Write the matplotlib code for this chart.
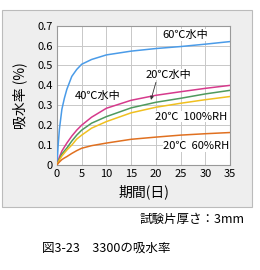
"""Water absorption of 3300 over time."""

import matplotlib

matplotlib.use("Agg")
import matplotlib.pyplot as plt
from matplotlib.patches import Rectangle

plt.rcParams["font.family"] = ["Noto Sans CJK JP", "DejaVu Sans"]

days = [0, 0.25, 0.5, 1, 1.5, 2, 3, 4, 5, 7, 10, 15, 20, 25, 30, 35]
water_60 = [0, 0.10, 0.18, 0.28, 0.335, 0.38, 0.445, 0.48, 0.506, 0.53, 0.553, 0.572, 0.585, 0.595, 0.607, 0.62]
water_40 = [0, 0.02, 0.04, 0.07, 0.09, 0.11, 0.145, 0.175, 0.20, 0.24, 0.285, 0.325, 0.35, 0.368, 0.385, 0.40]
water_20 = [0, 0.016, 0.03, 0.055, 0.07, 0.085, 0.12, 0.15, 0.175, 0.21, 0.243, 0.287, 0.315, 0.335, 0.357, 0.375]
rh_100 = [0, 0.013, 0.025, 0.045, 0.06, 0.075, 0.10, 0.13, 0.15, 0.185, 0.218, 0.262, 0.29, 0.31, 0.328, 0.344]
rh_60 = [0, 0.008, 0.015, 0.027, 0.035, 0.042, 0.058, 0.072, 0.084, 0.097, 0.11, 0.129, 0.14, 0.15, 0.157, 0.163]

series = [
    (water_60, "#4a9be8"),
    (water_40, "#d63a8c"),
    (water_20, "#4f9a5e"),
    (rh_100, "#f0c020"),
    (rh_60, "#e07020"),
]

x_ticks = [0, 5, 10, 15, 20, 25, 30, 35]
y_ticks = [0, 0.1, 0.2, 0.3, 0.4, 0.5, 0.6, 0.7]
y_tick_labels = ["0", "0.1", "0.2", "0.3", "0.4", "0.5", "0.6", "0.7"]

figure = plt.figure(figsize=(2.6, 2.7), dpi=100)
figure.patch.set_facecolor("white")
figure.patches.append(
    Rectangle((0.008, 0.233), 0.961, 0.730, transform=figure.transFigure,
              facecolor="#eeeeee", edgecolor="#bbbbbb", linewidth=0.8, zorder=-10)
)

axis = figure.add_axes([0.219, 0.389, 0.666, 0.516])
axis.set_zorder(1)
axis.set_facecolor("white")
for values, color in series:
    axis.plot(days, values, color=color, linewidth=1.1, zorder=3)

axis.set_xlim(0, 35)
axis.set_ylim(0, 0.7)
axis.set_xticks(x_ticks)
axis.set_yticks(y_ticks)
axis.set_yticklabels(y_tick_labels)
axis.tick_params(length=0, labelsize=8, pad=3)
axis.grid(True, color="#c8c8c8", linewidth=0.7, zorder=0)
for spine in axis.spines.values():
    spine.set_color("#999999")
    spine.set_linewidth(0.8)

axis.set_xlabel("期間(日)", fontsize=10, labelpad=4)
axis.set_ylabel("吸水率 (%)", fontsize=10, labelpad=7)

label_box = dict(facecolor="white", edgecolor="none", pad=0.5)
axis.text(26, 0.653, "60℃水中", fontsize=8, ha="center", va="center", bbox=label_box, zorder=4)
axis.text(22.6, 0.453, "20℃水中", fontsize=8, ha="center", va="center", bbox=label_box, zorder=4)
axis.text(8.2, 0.347, "40℃水中", fontsize=8, ha="center", va="center", zorder=4)
axis.text(27.2, 0.243, "20℃  100%RH", fontsize=8, ha="center", va="center", bbox=label_box, zorder=4)
axis.text(28.2, 0.096, "20℃  60%RH", fontsize=8, ha="center", va="center", bbox=label_box, zorder=4)
axis.annotate("", xy=(19.0, 0.327), xytext=(20.0, 0.415),
              arrowprops=dict(arrowstyle="-|>", color="#333333", lw=0.6,
                              mutation_scale=5, shrinkA=0, shrinkB=0), zorder=4)

figure.text(0.942, 0.189, "試験片厚さ：3mm", fontsize=9, ha="right", va="center")
figure.text(0.162, 0.081, "図3-23　3300の吸水率", fontsize=9, ha="left", va="center")

figure.savefig("out.png", dpi=100)
plt.close(figure)
